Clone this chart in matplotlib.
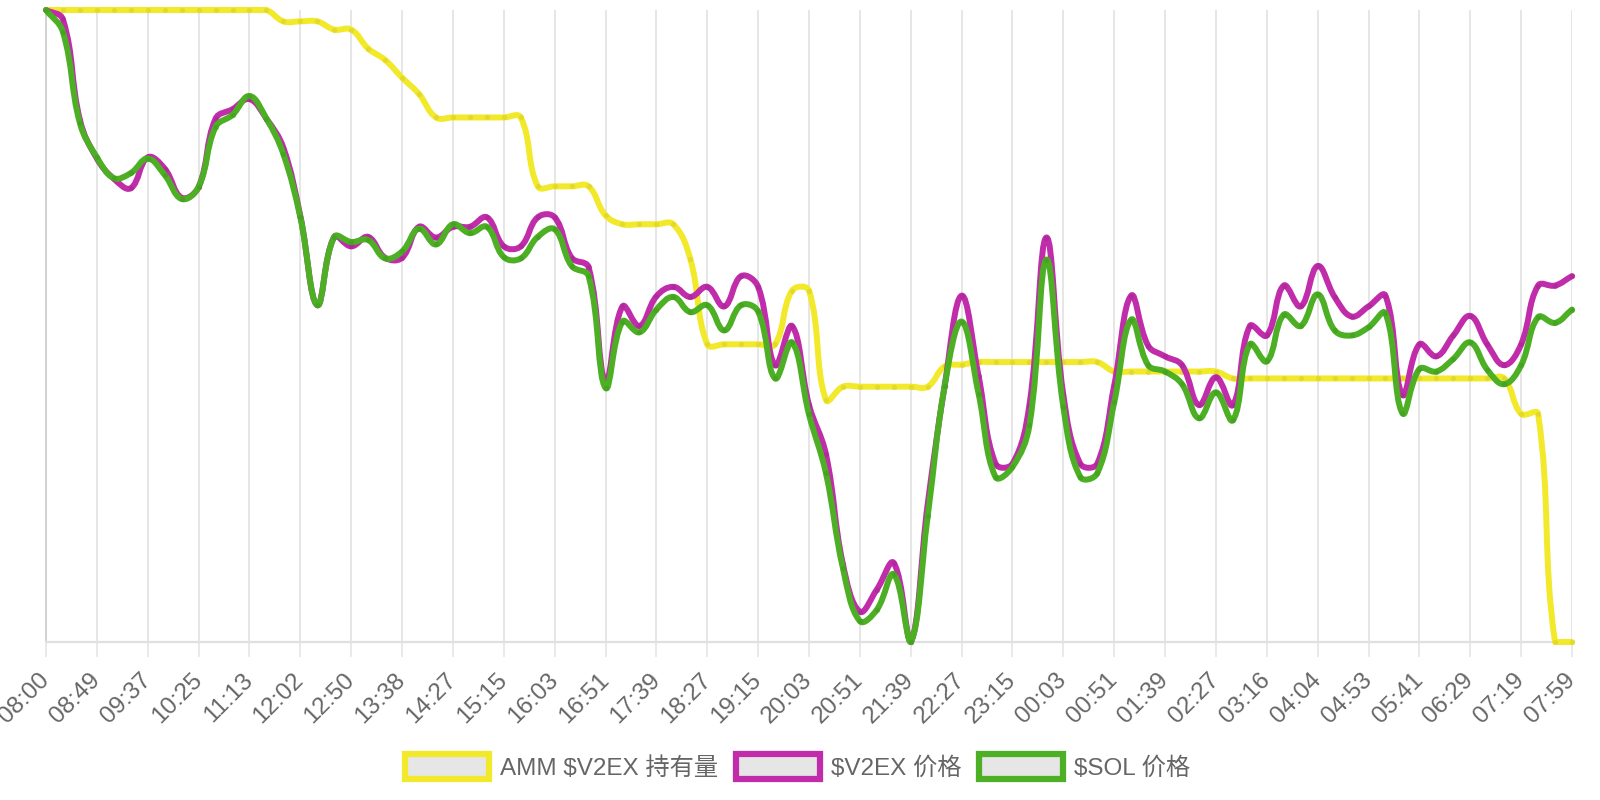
import numpy as np
import matplotlib
matplotlib.use('Agg')
import matplotlib.pyplot as plt
from matplotlib.path import Path
from matplotlib.patches import PathPatch, Rectangle

plt.rcParams['font.family'] = ['Liberation Sans', 'Noto Sans CJK SC', 'DejaVu Sans']

# 每 3 个数据点一个刻度标签
tick_labels = ['08:00', '08:49', '09:37', '10:25', '11:13', '12:02', '12:50', '13:38',
               '14:27', '15:15', '16:03', '16:51', '17:39', '18:27', '19:15', '20:03',
               '20:51', '21:39', '22:27', '23:15', '00:03', '00:51', '01:39', '02:27',
               '03:16', '04:04', '04:53', '05:41', '06:29', '07:19', '07:59']

# 三条线各自独立的 y 轴(隐藏), 数值按 0-100 归一化读取
amm_v2ex = [100.0] * 14 + [98.2] * 3 + [96.9] * 2 + [93.9, 92.1, 89.3, 86.7] + [83.0] * 6 \
    + [72.1] * 4 + [67.5] + [66.1] * 4 + [60.6] + [47.1] * 5 + [55.6] * 2 + [38.3] \
    + [40.4] * 6 + [43.6, 43.9] + [44.3] * 8 + [42.8] * 7 + [41.7] * 17 + [36.1] * 2 + [0.0] * 2

v2ex_price = [100.0, 98.5, 82.6, 76.5, 73.3, 71.8, 76.7, 74.9, 70.3, 72.0,
              82.8, 84.3, 85.9, 82.8, 78.2, 67.4, 53.3, 64.1, 62.6, 64.1,
              60.8, 60.8, 65.7, 64.0, 65.7, 65.7, 67.2, 62.6, 62.6, 67.2,
              67.2, 60.8, 59.3, 41.2, 53.1, 50.0, 54.7, 56.2, 54.6, 56.2,
              53.1, 57.9, 56.2, 43.8, 50.0, 37.5, 29.7, 12.3, 4.8, 8.3,
              12.5, 0.0, 21.8, 40.5, 54.8, 42.1, 28.2, 28.2, 37.5, 64.0,
              39.1, 28.2, 28.2, 40.6, 54.8, 46.9, 45.2, 43.8, 37.5, 41.9,
              37.5, 50.0, 48.5, 56.4, 53.1, 59.5, 54.6, 51.5, 53.1, 54.8,
              39.1, 47.1, 45.2, 48.5, 51.6, 47.1, 43.8, 47.1, 56.4, 56.4, 57.9]

sol_price = [100.0, 96.5, 82.1, 76.7, 73.4, 74.2, 76.5, 73.9, 70.1, 72.0,
             81.5, 83.4, 86.4, 82.8, 77.2, 67.2, 53.3, 64.1, 63.3, 63.6,
             60.7, 61.8, 65.4, 62.9, 66.1, 64.7, 65.7, 60.9, 60.7, 64.1,
             65.3, 59.5, 57.9, 40.2, 50.7, 49.0, 52.6, 54.6, 52.2, 53.3,
             49.3, 53.3, 52.3, 41.7, 47.4, 36.0, 26.7, 11.7, 3.3, 5.1,
             10.7, 0.0, 19.9, 40.5, 50.7, 39.3, 26.1, 27.7, 34.3, 60.5,
             37.2, 26.1, 26.7, 37.9, 51.0, 43.8, 42.8, 40.8, 35.4, 39.5,
             35.1, 47.1, 44.4, 51.8, 50.0, 55.0, 49.3, 48.5, 49.8, 52.0,
             36.2, 43.2, 42.8, 44.8, 47.4, 43.1, 40.8, 43.8, 51.4, 50.5, 52.6]

series_names = [r'AMM \$V2EX 持有量', r'\$V2EX 价格', r'\$SOL 价格']
line_colors = ['#f2e92a', '#c02caa', '#4caf24']
point_colors = ['#d6cd2c', '#a52592', '#3e9a1c']


def spline_path(ax, xs, ys, tension=0.4):
    """
    按 chart.js 的方式生成平滑曲线(像素空间计算控制点, 并限制在绘图区内)
    """
    pts = ax.transData.transform(np.column_stack([xs, ys]))
    bb = ax.bbox
    n = len(pts)
    cp_prev = []
    cp_next = []
    for i in range(n):
        cur = pts[i]
        prev = pts[i - 1] if i > 0 else cur
        nxt = pts[i + 1] if i < n - 1 else cur
        d01 = np.hypot(*(cur - prev))
        d12 = np.hypot(*(nxt - cur))
        tot = d01 + d12
        s01 = d01 / tot if tot else 0
        s12 = d12 / tot if tot else 0
        p = cur - tension * s01 * (nxt - prev)
        q = cur + tension * s12 * (nxt - prev)
        p = [min(max(p[0], bb.x0), bb.x1), min(max(p[1], bb.y0), bb.y1)]
        q = [min(max(q[0], bb.x0), bb.x1), min(max(q[1], bb.y0), bb.y1)]
        cp_prev.append(p)
        cp_next.append(q)
    verts = [pts[0]]
    codes = [Path.MOVETO]
    for i in range(n - 1):
        verts += [cp_next[i], cp_prev[i + 1], pts[i + 1]]
        codes += [Path.CURVE4] * 3
    verts = ax.transData.inverted().transform(np.array(verts))
    return Path(verts, codes)


fig = plt.figure(figsize=(16, 8), dpi=100)
ax = fig.add_axes([46 / 1600, 158 / 800, 1526 / 1600, 632 / 800])
x = np.arange(len(amm_v2ex))
ax.set_xlim(0, len(x) - 1)
ax.set_ylim(0, 100)

ax.set_xticks(x[::3])
ax.set_xticklabels(tick_labels, rotation=45, ha='right', va='center',
                   rotation_mode='anchor', fontsize=17.5, color='#666666')
ax.tick_params(axis='x', length=11, width=1.1, color='#e3e3e3', pad=14)
ax.set_yticks([])
ax.grid(axis='x', color='#e6e6e6', lw=1.4)
ax.set_axisbelow(True)
for side in ['top', 'right']:
    ax.spines[side].set_visible(False)
ax.spines['bottom'].set_color('#e0e0e0')
ax.spines['bottom'].set_linewidth(1.6)
ax.spines['left'].set_color('#cccccc')
ax.spines['left'].set_linewidth(1.2)

all_series = [amm_v2ex, v2ex_price, sol_price]
handles = []
# chart.js 中第一个数据集画在最上面
for k in [2, 1, 0]:
    ys = all_series[k]
    path = spline_path(ax, x, ys)
    ax.add_patch(PathPatch(path, fill=False, edgecolor=line_colors[k], lw=4.3,
                           capstyle='round', joinstyle='round', clip_on=False, zorder=3 + k * 0.1))
    ax.plot(x, ys, 'o', ms=3.8, color=point_colors[k], alpha=0.55, mew=0,
            clip_on=False, zorder=3 + k * 0.1 + 0.05)

for k in range(3):
    handles.append(Rectangle((0, 0), 1, 1, facecolor='#e6e6e6', edgecolor=line_colors[k], lw=4.5))

fig.legend(handles, series_names, loc='center', bbox_to_anchor=(0.4985, 0.041), ncol=3,
           frameon=False, fontsize=17.5, labelcolor='#666666', handlelength=3.45,
           handleheight=1.2, handletextpad=0.45, columnspacing=0.75)

fig.savefig('out.png', dpi=100)
